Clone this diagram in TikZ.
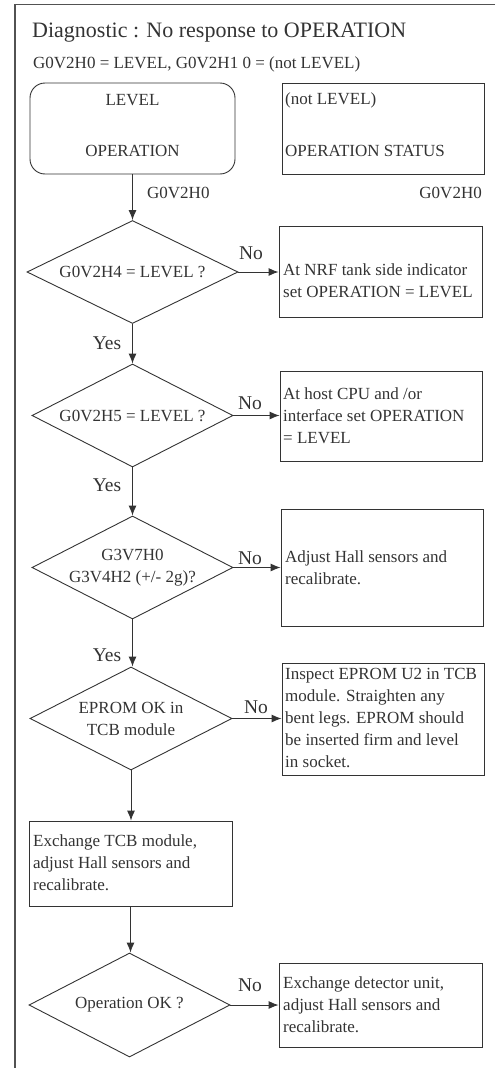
\documentclass[tikz,border=0pt]{standalone}
\usepackage{fontspec}
\setmainfont{Liberation Serif}
\usetikzlibrary{shapes.geometric,arrows.meta}
\definecolor{ink}{HTML}{333333}

\begin{document}
\begin{tikzpicture}[x=1pt,y=-1pt,
  box/.style={draw=ink,line width=0.9pt,inner sep=0pt},
  dia/.style={draw=ink,line width=0.9pt,diamond,inner sep=0pt,minimum width=201pt,minimum height=103pt},
  txt/.style={text=ink,font=\fontsize{17}{22}\selectfont,inner sep=0pt,align=left},
  branch/.style={txt,font=\fontsize{19.5}{24}\selectfont},
  flow/.style={draw=ink,line width=0.9pt,-{Latex[length=10pt,width=8pt]}}]
\useasboundingbox (0,0) rectangle (496,1068);

%% frame
\draw[ink!85,line width=1.5pt] (495,4.5) -- (15,4.5) -- (15,1068);

%% heading
\node[anchor=base west,text=ink,font=\fontsize{22}{26}\selectfont,inner sep=0pt] (title) at (32,37) {Diagnostic : No response to OPERATION};
\node[txt,anchor=base west] (subtitle) at (33,68) {G0V2H0 = LEVEL, G0V2H1 0 = (not LEVEL)};

%%% top boxes %%%%
\node[box,rounded corners=15pt,minimum width=205pt,minimum height=91pt] (start) at (132.5,128.5) {};
\node[txt] (startA) at (132.5,100) {LEVEL};
\node[txt] (startB) at (132.5,151) {OPERATION};
\node[txt,anchor=west] (startC) at (147,193) {G0V2H0};

\node[box,minimum width=202pt,minimum height=91pt] (status) at (383,128.5) {};
\node[txt,anchor=west] (statusA) at (285,100) {(not LEVEL)};
\node[txt,anchor=west] (statusB) at (285,151) {OPERATION STATUS};
\node[txt,anchor=east] (statusC) at (482,193) {G0V2H0};

%%% questions %%%%
\node[dia,minimum width=211pt] (q1) at (132.5,272) {};
\node[txt,align=center] (q1t) at (q1) {G0V2H4 = LEVEL ?};
\node[dia] (q2) at (132.5,415.5) {};
\node[txt,align=center] (q2t) at (q2) {G0V2H5 = LEVEL ?};
\node[dia] (q3) at (132.5,567.5) {};
\node[txt,align=center] (q3t) at (q3) {G3V7H0\\G3V4H2 (+/- 2g)?};
\node[dia,minimum width=202pt] (q4) at (131,718.5) {};
\node[txt,align=center] (q4t) at (q4) {EPROM OK in\\TCB module};
\node[box,minimum width=203pt,minimum height=85pt] (b5) at (130.5,863.5) {};
\node[txt,anchor=west] (b5t) at (33,863) {Exchange TCB module,\\adjust Hall sensors and\\recalibrate.};
\node[dia,minimum height=104pt] (q5) at (129.5,1005) {};
\node[txt,align=center] (q5t) at (q5) {Operation OK ?};

%%% actions %%%%
\node[box,minimum width=203pt,minimum height=91pt] (b1) at (380.5,271.5) {};
\node[txt,anchor=west] (b1t) at (283,281) {At NRF tank side indicator\\set OPERATION = LEVEL};
\node[box,minimum width=202pt,minimum height=90pt] (b2) at (381,416) {};
\node[txt,anchor=west] (b2t) at (283,416) {At host CPU and /or\\interface set OPERATION\\= LEVEL};
\node[box,minimum width=202pt,minimum height=117pt] (b3) at (382,567.5) {};
\node[txt,anchor=west] (b3t) at (285,567.5) {Adjust Hall sensors and\\recalibrate.};
\node[box,minimum width=202pt,minimum height=112pt] (b4) at (383,719) {};
\node[txt,anchor=west] (b4t) at (285,718) {Inspect EPROM U2 in TCB\\module. Straighten any\\bent legs. EPROM should\\be inserted firm and level\\in socket.};
\node[box,minimum width=203pt,minimum height=84pt] (b6) at (380.5,1005) {};
\node[txt,anchor=west] (b6t) at (283,1005) {Exchange detector unit,\\adjust Hall sensors and\\recalibrate.};

%% arrows
\draw[flow] (start.south) -- (q1.north);
\draw[flow] (q1.south) -- (q2.north);
\draw[flow] (q2.south) -- (q3.north);
\draw[flow] (q3.south) -- (q4.north -| q3.south);
\draw[flow] (q4.south) -- (q4.south |- b5.north);
\draw[flow] (b5.south) -- (b5.south |- q5.north);

\draw[flow] (q1.east) -- (q1.east -| b1.west);
\draw[flow] (q2.east) -- (q2.east -| b2.west);
\draw[flow] (q3.east) -- (q3.east -| b3.west);
\draw[flow] (q4.east) -- (q4.east -| b4.west);
\draw[flow] (q5.east) -- (q5.east -| b6.west);

%% labels
\node[branch] (no1) at (251,253) {No};
\node[branch] (no2) at (250,403) {No};
\node[branch] (no3) at (250,558) {No};
\node[branch] (no4) at (256,707) {No};
\node[branch] (no5) at (250,985) {No};
\node[branch] (yes1) at (107,343) {Yes};
\node[branch] (yes2) at (107,485) {Yes};
\node[branch] (yes3) at (107,655) {Yes};

\end{tikzpicture}
\end{document}
